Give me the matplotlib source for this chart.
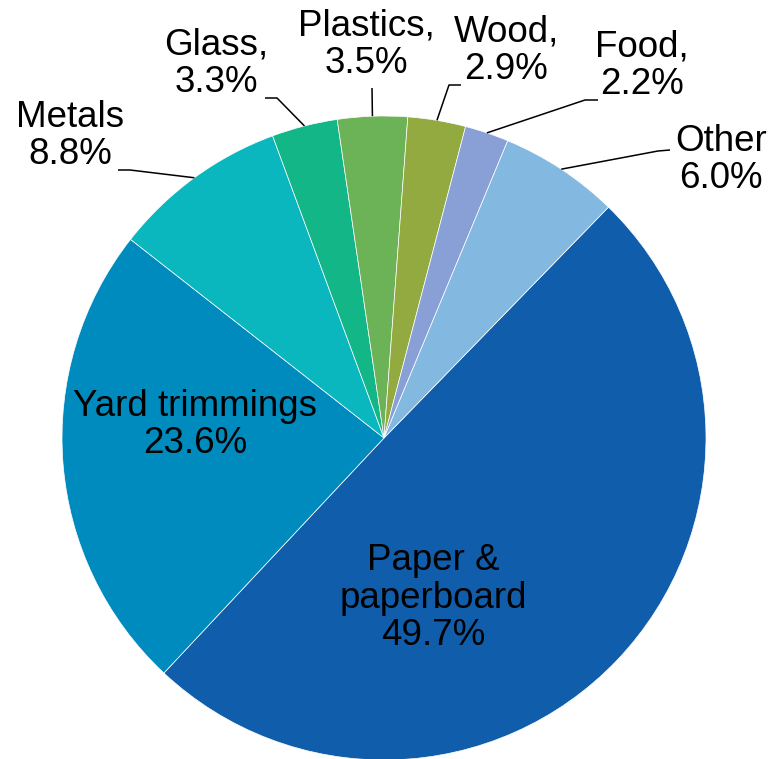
import numpy as np
import matplotlib
matplotlib.use("Agg")
import matplotlib.pyplot as plt

plt.rcParams['font.family'] = ['Liberation Sans', 'DejaVu Sans']

categories = ["Paper &\npaperboard", "Yard trimmings", "Metals", "Glass,", "Plastics,",
              "Wood,", "Food,", "Other"]
values = [49.7, 23.6, 8.8, 3.3, 3.5, 2.9, 2.2, 6.0]
pct_labels = ["49.7%", "23.6%", "8.8%", "3.3%", "3.5%", "2.9%", "2.2%", "6.0%"]
colors = ["#105EAB", "#008BBF", "#0AB7BE", "#12B687", "#6CB257", "#92AA40", "#88A0D5", "#83B9E0"]

W, H = 773, 759
fig = plt.figure(figsize=(W / 100, H / 100), dpi=100)
ax = fig.add_axes([0, 0, 1, 1])

cx, cy, R = 384, H - 438, 322
wedges, _ = ax.pie(values, colors=colors, startangle=45.8, counterclock=False,
                   center=(cx, cy), radius=R,
                   wedgeprops=dict(edgecolor="white", linewidth=0.5))
ax.set_xlim(0, W)
ax.set_ylim(0, H)
ax.set_aspect("equal")
ax.axis("off")

fs = 26.5
# label block centers in pixel coordinates (x, y from top)
label_pos = [(433, 598), (195, 425), (70, 136), (216, 64), (366, 45),
             (506, 51), (642, 66), (721, 160)]
# leader line label-side points (pixel coords, y from top); None = inside label
leaders = [None, None,
           [(118, 170), (130, 170)],
           [(265, 98), (277, 98)],
           [(372, 88)],
           [(461, 85), (449, 85)],
           [(598, 100), (585, 100)],
           [(670, 150), (658, 151)]]

for w, cat, pct, (lx, ly), ld in zip(wedges, categories, pct_labels, label_pos, leaders):
    ax.text(lx, H - ly, f"{cat}\n{pct}", ha="center", va="center",
            multialignment="center", fontsize=fs, color="black", linespacing=1.1)
    if ld is not None:
        mid = np.deg2rad((w.theta1 + w.theta2) / 2)
        ex, ey = cx + R * np.cos(mid), cy + R * np.sin(mid)
        xs = [p[0] for p in ld] + [ex]
        ys = [H - p[1] for p in ld] + [ey]
        ax.plot(xs, ys, color="black", linewidth=1.1, solid_capstyle="butt")

fig.savefig("out.png", dpi=100)
